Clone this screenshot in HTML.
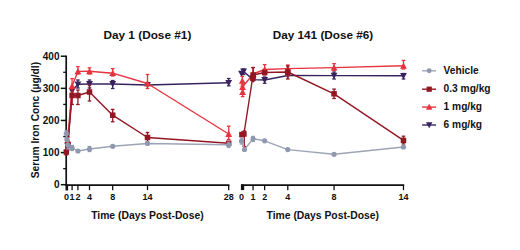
<!DOCTYPE html><html><head><meta charset="utf-8"><style>html,body{margin:0;padding:0;background:#fff;overflow:hidden;}svg{display:block;}text{font-family:"Liberation Sans",sans-serif;font-weight:bold;fill:#111;}</style></head><body>
<svg width="520" height="250" viewBox="0 0 520 250">
<rect width="520" height="250" fill="#fff"/>
<text x="147.40" y="39.40" font-size="11.8" text-anchor="middle" >Day 1 (Dose #1)</text>
<text x="323.00" y="39.40" font-size="11.75" text-anchor="middle" >Day 141 (Dose #6)</text>
<text transform="translate(39.4,120.1) rotate(-90)" font-size="10.25" text-anchor="middle">Serum Iron Conc (µg/dl)</text>
<line x1="66.20" y1="55.60" x2="66.20" y2="185.50" stroke="#111" stroke-width="1.7"/>
<line x1="60.80" y1="184.70" x2="66.20" y2="184.70" stroke="#111" stroke-width="1.5"/>
<text x="59.50" y="188.25" font-size="10" text-anchor="end" >0</text>
<line x1="60.80" y1="152.58" x2="66.20" y2="152.58" stroke="#111" stroke-width="1.5"/>
<text x="59.50" y="156.13" font-size="10" text-anchor="end" >100</text>
<line x1="60.80" y1="120.46" x2="66.20" y2="120.46" stroke="#111" stroke-width="1.5"/>
<text x="59.50" y="124.01" font-size="10" text-anchor="end" >200</text>
<line x1="60.80" y1="88.34" x2="66.20" y2="88.34" stroke="#111" stroke-width="1.5"/>
<text x="59.50" y="91.89" font-size="10" text-anchor="end" >300</text>
<line x1="60.80" y1="56.22" x2="66.20" y2="56.22" stroke="#111" stroke-width="1.5"/>
<text x="59.50" y="59.77" font-size="10" text-anchor="end" >400</text>
<line x1="63.20" y1="168.64" x2="66.20" y2="168.64" stroke="#111" stroke-width="1.3"/>
<line x1="63.20" y1="136.52" x2="66.20" y2="136.52" stroke="#111" stroke-width="1.3"/>
<line x1="63.20" y1="104.40" x2="66.20" y2="104.40" stroke="#111" stroke-width="1.3"/>
<line x1="63.20" y1="72.28" x2="66.20" y2="72.28" stroke="#111" stroke-width="1.3"/>
<line x1="65.40" y1="185.10" x2="229.40" y2="185.10" stroke="#111" stroke-width="1.7"/>
<rect x="65.5" y="184.5" width="2.6" height="6" fill="#111"/>
<line x1="72.10" y1="185.00" x2="72.10" y2="190.20" stroke="#111" stroke-width="1.3"/>
<line x1="77.90" y1="185.00" x2="77.90" y2="190.20" stroke="#111" stroke-width="1.3"/>
<line x1="89.50" y1="185.00" x2="89.50" y2="190.20" stroke="#111" stroke-width="1.3"/>
<line x1="112.70" y1="185.00" x2="112.70" y2="190.20" stroke="#111" stroke-width="1.3"/>
<line x1="147.50" y1="185.00" x2="147.50" y2="190.20" stroke="#111" stroke-width="1.3"/>
<line x1="228.70" y1="185.00" x2="228.70" y2="190.20" stroke="#111" stroke-width="1.3"/>
<text x="66.60" y="200.00" font-size="9" text-anchor="middle" >0</text>
<text x="72.10" y="200.00" font-size="9" text-anchor="middle" >1</text>
<text x="77.90" y="200.00" font-size="9" text-anchor="middle" >2</text>
<text x="89.50" y="200.00" font-size="9" text-anchor="middle" >4</text>
<text x="112.70" y="200.00" font-size="9" text-anchor="middle" >8</text>
<text x="147.50" y="200.00" font-size="9" text-anchor="middle" >14</text>
<text x="228.70" y="200.00" font-size="9" text-anchor="middle" >28</text>
<text x="147.40" y="219.00" font-size="10.35" text-anchor="middle" >Time (Days Post-Dose)</text>
<line x1="241.00" y1="185.10" x2="404.20" y2="185.10" stroke="#111" stroke-width="1.7"/>
<rect x="240.9" y="184.5" width="3.3" height="5.6" fill="#111"/>
<line x1="253.07" y1="185.00" x2="253.07" y2="190.20" stroke="#111" stroke-width="1.3"/>
<line x1="264.64" y1="185.00" x2="264.64" y2="190.20" stroke="#111" stroke-width="1.3"/>
<line x1="287.78" y1="185.00" x2="287.78" y2="190.20" stroke="#111" stroke-width="1.3"/>
<line x1="334.06" y1="185.00" x2="334.06" y2="190.20" stroke="#111" stroke-width="1.3"/>
<line x1="403.48" y1="185.00" x2="403.48" y2="190.20" stroke="#111" stroke-width="1.3"/>
<text x="241.50" y="200.00" font-size="9" text-anchor="middle" >0</text>
<text x="253.07" y="200.00" font-size="9" text-anchor="middle" >1</text>
<text x="264.64" y="200.00" font-size="9" text-anchor="middle" >2</text>
<text x="287.78" y="200.00" font-size="9" text-anchor="middle" >4</text>
<text x="334.06" y="200.00" font-size="9" text-anchor="middle" >8</text>
<text x="403.48" y="200.00" font-size="9" text-anchor="middle" >14</text>
<text x="322.80" y="219.00" font-size="10.35" text-anchor="middle" >Time (Days Post-Dose)</text>
<line x1="77.90" y1="80.00" x2="77.90" y2="88.00" stroke="#38235f" stroke-width="1.3"/>
<line x1="76.10" y1="80.00" x2="79.70" y2="80.00" stroke="#38235f" stroke-width="1.3"/>
<line x1="76.10" y1="88.00" x2="79.70" y2="88.00" stroke="#38235f" stroke-width="1.3"/>
<line x1="89.50" y1="80.00" x2="89.50" y2="88.00" stroke="#38235f" stroke-width="1.3"/>
<line x1="87.70" y1="80.00" x2="91.30" y2="80.00" stroke="#38235f" stroke-width="1.3"/>
<line x1="87.70" y1="88.00" x2="91.30" y2="88.00" stroke="#38235f" stroke-width="1.3"/>
<line x1="112.70" y1="80.50" x2="112.70" y2="88.50" stroke="#38235f" stroke-width="1.3"/>
<line x1="110.90" y1="80.50" x2="114.50" y2="80.50" stroke="#38235f" stroke-width="1.3"/>
<line x1="110.90" y1="88.50" x2="114.50" y2="88.50" stroke="#38235f" stroke-width="1.3"/>
<line x1="228.70" y1="78.50" x2="228.70" y2="85.80" stroke="#38235f" stroke-width="1.3"/>
<line x1="226.90" y1="78.50" x2="230.50" y2="78.50" stroke="#38235f" stroke-width="1.3"/>
<line x1="226.90" y1="85.80" x2="230.50" y2="85.80" stroke="#38235f" stroke-width="1.3"/>
<line x1="243.60" y1="69.00" x2="243.60" y2="74.50" stroke="#38235f" stroke-width="1.3"/>
<line x1="241.80" y1="69.00" x2="245.40" y2="69.00" stroke="#38235f" stroke-width="1.3"/>
<line x1="241.80" y1="74.50" x2="245.40" y2="74.50" stroke="#38235f" stroke-width="1.3"/>
<line x1="264.64" y1="77.00" x2="264.64" y2="83.30" stroke="#38235f" stroke-width="1.3"/>
<line x1="262.84" y1="77.00" x2="266.44" y2="77.00" stroke="#38235f" stroke-width="1.3"/>
<line x1="262.84" y1="83.30" x2="266.44" y2="83.30" stroke="#38235f" stroke-width="1.3"/>
<line x1="334.06" y1="72.00" x2="334.06" y2="79.00" stroke="#38235f" stroke-width="1.3"/>
<line x1="332.26" y1="72.00" x2="335.86" y2="72.00" stroke="#38235f" stroke-width="1.3"/>
<line x1="332.26" y1="79.00" x2="335.86" y2="79.00" stroke="#38235f" stroke-width="1.3"/>
<line x1="403.48" y1="73.50" x2="403.48" y2="79.00" stroke="#38235f" stroke-width="1.3"/>
<line x1="401.68" y1="73.50" x2="405.28" y2="73.50" stroke="#38235f" stroke-width="1.3"/>
<line x1="401.68" y1="79.00" x2="405.28" y2="79.00" stroke="#38235f" stroke-width="1.3"/>
<polyline points="67.75,146.00 72.10,91.00 77.90,84.30 89.50,84.00 112.70,84.00 147.50,85.00 228.70,82.80" fill="none" stroke="#38235f" stroke-width="1.4" stroke-linejoin="round"/>
<polyline points="241.50,73.60 243.60,71.50 253.07,79.60 264.64,80.00 287.78,75.50 334.06,75.60 403.48,75.80" fill="none" stroke="#38235f" stroke-width="1.4" stroke-linejoin="round"/>
<polygon points="64.35,143.11 71.15,143.11 67.75,149.40" fill="#38235f"/>
<polygon points="68.70,88.11 75.50,88.11 72.10,94.40" fill="#38235f"/>
<polygon points="74.50,81.41 81.30,81.41 77.90,87.70" fill="#38235f"/>
<polygon points="86.10,81.11 92.90,81.11 89.50,87.40" fill="#38235f"/>
<polygon points="109.30,81.11 116.10,81.11 112.70,87.40" fill="#38235f"/>
<polygon points="144.10,82.11 150.90,82.11 147.50,88.40" fill="#38235f"/>
<polygon points="225.30,79.91 232.10,79.91 228.70,86.20" fill="#38235f"/>
<polygon points="238.10,70.71 244.90,70.71 241.50,77.00" fill="#38235f"/>
<polygon points="240.20,68.61 247.00,68.61 243.60,74.90" fill="#38235f"/>
<polygon points="249.67,76.71 256.47,76.71 253.07,83.00" fill="#38235f"/>
<polygon points="261.24,77.11 268.04,77.11 264.64,83.40" fill="#38235f"/>
<polygon points="284.38,72.61 291.18,72.61 287.78,78.90" fill="#38235f"/>
<polygon points="330.66,72.71 337.46,72.71 334.06,79.00" fill="#38235f"/>
<polygon points="400.08,72.91 406.88,72.91 403.48,79.20" fill="#38235f"/>
<line x1="72.10" y1="78.60" x2="72.10" y2="93.00" stroke="#e6333f" stroke-width="1.3"/>
<line x1="70.30" y1="78.60" x2="73.90" y2="78.60" stroke="#e6333f" stroke-width="1.3"/>
<line x1="70.30" y1="93.00" x2="73.90" y2="93.00" stroke="#e6333f" stroke-width="1.3"/>
<line x1="77.90" y1="66.60" x2="77.90" y2="74.00" stroke="#e6333f" stroke-width="1.3"/>
<line x1="76.10" y1="66.60" x2="79.70" y2="66.60" stroke="#e6333f" stroke-width="1.3"/>
<line x1="76.10" y1="74.00" x2="79.70" y2="74.00" stroke="#e6333f" stroke-width="1.3"/>
<line x1="89.50" y1="67.80" x2="89.50" y2="74.00" stroke="#e6333f" stroke-width="1.3"/>
<line x1="87.70" y1="67.80" x2="91.30" y2="67.80" stroke="#e6333f" stroke-width="1.3"/>
<line x1="87.70" y1="74.00" x2="91.30" y2="74.00" stroke="#e6333f" stroke-width="1.3"/>
<line x1="112.70" y1="68.60" x2="112.70" y2="76.00" stroke="#e6333f" stroke-width="1.3"/>
<line x1="110.90" y1="68.60" x2="114.50" y2="68.60" stroke="#e6333f" stroke-width="1.3"/>
<line x1="110.90" y1="76.00" x2="114.50" y2="76.00" stroke="#e6333f" stroke-width="1.3"/>
<line x1="147.50" y1="74.50" x2="147.50" y2="88.50" stroke="#e6333f" stroke-width="1.3"/>
<line x1="145.70" y1="74.50" x2="149.30" y2="74.50" stroke="#e6333f" stroke-width="1.3"/>
<line x1="145.70" y1="88.50" x2="149.30" y2="88.50" stroke="#e6333f" stroke-width="1.3"/>
<line x1="228.70" y1="126.20" x2="228.70" y2="139.50" stroke="#e6333f" stroke-width="1.3"/>
<line x1="226.90" y1="126.20" x2="230.50" y2="126.20" stroke="#e6333f" stroke-width="1.3"/>
<line x1="226.90" y1="139.50" x2="230.50" y2="139.50" stroke="#e6333f" stroke-width="1.3"/>
<line x1="242.30" y1="76.40" x2="242.30" y2="86.00" stroke="#e6333f" stroke-width="1.3"/>
<line x1="240.50" y1="76.40" x2="244.10" y2="76.40" stroke="#e6333f" stroke-width="1.3"/>
<line x1="240.50" y1="86.00" x2="244.10" y2="86.00" stroke="#e6333f" stroke-width="1.3"/>
<line x1="242.60" y1="84.00" x2="242.60" y2="96.60" stroke="#e6333f" stroke-width="1.3"/>
<line x1="240.80" y1="84.00" x2="244.40" y2="84.00" stroke="#e6333f" stroke-width="1.3"/>
<line x1="240.80" y1="96.60" x2="244.40" y2="96.60" stroke="#e6333f" stroke-width="1.3"/>
<line x1="253.07" y1="67.60" x2="253.07" y2="80.00" stroke="#e6333f" stroke-width="1.3"/>
<line x1="251.27" y1="67.60" x2="254.87" y2="67.60" stroke="#e6333f" stroke-width="1.3"/>
<line x1="251.27" y1="80.00" x2="254.87" y2="80.00" stroke="#e6333f" stroke-width="1.3"/>
<line x1="264.64" y1="64.60" x2="264.64" y2="75.00" stroke="#e6333f" stroke-width="1.3"/>
<line x1="262.84" y1="64.60" x2="266.44" y2="64.60" stroke="#e6333f" stroke-width="1.3"/>
<line x1="262.84" y1="75.00" x2="266.44" y2="75.00" stroke="#e6333f" stroke-width="1.3"/>
<line x1="287.78" y1="65.00" x2="287.78" y2="76.00" stroke="#e6333f" stroke-width="1.3"/>
<line x1="285.98" y1="65.00" x2="289.58" y2="65.00" stroke="#e6333f" stroke-width="1.3"/>
<line x1="285.98" y1="76.00" x2="289.58" y2="76.00" stroke="#e6333f" stroke-width="1.3"/>
<line x1="334.06" y1="63.60" x2="334.06" y2="70.50" stroke="#e6333f" stroke-width="1.3"/>
<line x1="332.26" y1="63.60" x2="335.86" y2="63.60" stroke="#e6333f" stroke-width="1.3"/>
<line x1="332.26" y1="70.50" x2="335.86" y2="70.50" stroke="#e6333f" stroke-width="1.3"/>
<line x1="403.48" y1="60.40" x2="403.48" y2="69.00" stroke="#e6333f" stroke-width="1.3"/>
<line x1="401.68" y1="60.40" x2="405.28" y2="60.40" stroke="#e6333f" stroke-width="1.3"/>
<line x1="401.68" y1="69.00" x2="405.28" y2="69.00" stroke="#e6333f" stroke-width="1.3"/>
<polyline points="67.75,140.00 72.10,86.00 77.90,71.40 89.50,71.30 112.70,73.20 147.50,83.50 228.70,134.00" fill="none" stroke="#e6333f" stroke-width="1.4" stroke-linejoin="round"/>
<polyline points="242.30,80.80 242.60,92.00 242.60,87.00 253.07,74.00 264.64,69.50 287.78,68.60 334.06,67.60 403.48,65.80" fill="none" stroke="#e6333f" stroke-width="1.4" stroke-linejoin="round"/>
<polygon points="64.35,142.89 71.15,142.89 67.75,136.60" fill="#e6333f"/>
<polygon points="68.70,88.89 75.50,88.89 72.10,82.60" fill="#e6333f"/>
<polygon points="74.50,74.29 81.30,74.29 77.90,68.00" fill="#e6333f"/>
<polygon points="86.10,74.19 92.90,74.19 89.50,67.90" fill="#e6333f"/>
<polygon points="109.30,76.09 116.10,76.09 112.70,69.80" fill="#e6333f"/>
<polygon points="144.10,86.39 150.90,86.39 147.50,80.10" fill="#e6333f"/>
<polygon points="225.30,136.89 232.10,136.89 228.70,130.60" fill="#e6333f"/>
<polygon points="238.90,83.69 245.70,83.69 242.30,77.40" fill="#e6333f"/>
<polygon points="239.20,94.89 246.00,94.89 242.60,88.60" fill="#e6333f"/>
<polygon points="239.20,89.89 246.00,89.89 242.60,83.60" fill="#e6333f"/>
<polygon points="249.67,76.89 256.47,76.89 253.07,70.60" fill="#e6333f"/>
<polygon points="261.24,72.39 268.04,72.39 264.64,66.10" fill="#e6333f"/>
<polygon points="284.38,71.49 291.18,71.49 287.78,65.20" fill="#e6333f"/>
<polygon points="330.66,70.49 337.46,70.49 334.06,64.20" fill="#e6333f"/>
<polygon points="400.08,68.69 406.88,68.69 403.48,62.40" fill="#e6333f"/>
<line x1="72.10" y1="90.00" x2="72.10" y2="104.50" stroke="#931622" stroke-width="1.3"/>
<line x1="70.30" y1="90.00" x2="73.90" y2="90.00" stroke="#931622" stroke-width="1.3"/>
<line x1="70.30" y1="104.50" x2="73.90" y2="104.50" stroke="#931622" stroke-width="1.3"/>
<line x1="77.90" y1="90.00" x2="77.90" y2="104.50" stroke="#931622" stroke-width="1.3"/>
<line x1="76.10" y1="90.00" x2="79.70" y2="90.00" stroke="#931622" stroke-width="1.3"/>
<line x1="76.10" y1="104.50" x2="79.70" y2="104.50" stroke="#931622" stroke-width="1.3"/>
<line x1="89.50" y1="85.00" x2="89.50" y2="101.00" stroke="#931622" stroke-width="1.3"/>
<line x1="87.70" y1="85.00" x2="91.30" y2="85.00" stroke="#931622" stroke-width="1.3"/>
<line x1="87.70" y1="101.00" x2="91.30" y2="101.00" stroke="#931622" stroke-width="1.3"/>
<line x1="112.70" y1="109.40" x2="112.70" y2="121.80" stroke="#931622" stroke-width="1.3"/>
<line x1="110.90" y1="109.40" x2="114.50" y2="109.40" stroke="#931622" stroke-width="1.3"/>
<line x1="110.90" y1="121.80" x2="114.50" y2="121.80" stroke="#931622" stroke-width="1.3"/>
<line x1="147.50" y1="132.50" x2="147.50" y2="142.00" stroke="#931622" stroke-width="1.3"/>
<line x1="145.70" y1="132.50" x2="149.30" y2="132.50" stroke="#931622" stroke-width="1.3"/>
<line x1="145.70" y1="142.00" x2="149.30" y2="142.00" stroke="#931622" stroke-width="1.3"/>
<line x1="66.30" y1="134.00" x2="66.30" y2="155.00" stroke="#931622" stroke-width="1.3"/>
<line x1="64.50" y1="134.00" x2="68.10" y2="134.00" stroke="#931622" stroke-width="1.3"/>
<line x1="64.50" y1="155.00" x2="68.10" y2="155.00" stroke="#931622" stroke-width="1.3"/>
<line x1="67.75" y1="137.00" x2="67.75" y2="150.00" stroke="#931622" stroke-width="1.3"/>
<line x1="65.95" y1="137.00" x2="69.55" y2="137.00" stroke="#931622" stroke-width="1.3"/>
<line x1="65.95" y1="150.00" x2="69.55" y2="150.00" stroke="#931622" stroke-width="1.3"/>
<line x1="244.30" y1="131.00" x2="244.30" y2="146.50" stroke="#931622" stroke-width="1.3"/>
<line x1="242.50" y1="131.00" x2="246.10" y2="131.00" stroke="#931622" stroke-width="1.3"/>
<line x1="242.50" y1="146.50" x2="246.10" y2="146.50" stroke="#931622" stroke-width="1.3"/>
<line x1="253.07" y1="67.50" x2="253.07" y2="81.00" stroke="#931622" stroke-width="1.3"/>
<line x1="251.27" y1="67.50" x2="254.87" y2="67.50" stroke="#931622" stroke-width="1.3"/>
<line x1="251.27" y1="81.00" x2="254.87" y2="81.00" stroke="#931622" stroke-width="1.3"/>
<line x1="287.78" y1="66.00" x2="287.78" y2="79.00" stroke="#931622" stroke-width="1.3"/>
<line x1="285.98" y1="66.00" x2="289.58" y2="66.00" stroke="#931622" stroke-width="1.3"/>
<line x1="285.98" y1="79.00" x2="289.58" y2="79.00" stroke="#931622" stroke-width="1.3"/>
<line x1="334.06" y1="89.10" x2="334.06" y2="98.50" stroke="#931622" stroke-width="1.3"/>
<line x1="332.26" y1="89.10" x2="335.86" y2="89.10" stroke="#931622" stroke-width="1.3"/>
<line x1="332.26" y1="98.50" x2="335.86" y2="98.50" stroke="#931622" stroke-width="1.3"/>
<line x1="403.48" y1="136.20" x2="403.48" y2="144.00" stroke="#931622" stroke-width="1.3"/>
<line x1="401.68" y1="136.20" x2="405.28" y2="136.20" stroke="#931622" stroke-width="1.3"/>
<line x1="401.68" y1="144.00" x2="405.28" y2="144.00" stroke="#931622" stroke-width="1.3"/>
<polyline points="66.30,152.00 67.75,145.00 72.10,95.50 77.90,95.50 89.50,92.00 112.70,115.20 147.50,137.50 228.70,143.30" fill="none" stroke="#931622" stroke-width="1.4" stroke-linejoin="round"/>
<polyline points="241.90,134.60 243.90,134.00 253.07,75.00 264.64,72.50 287.78,72.00 334.06,93.80 403.48,140.40" fill="none" stroke="#931622" stroke-width="1.4" stroke-linejoin="round"/>
<rect x="63.55" y="149.25" width="5.50" height="5.50" fill="#931622"/>
<rect x="65.00" y="142.25" width="5.50" height="5.50" fill="#931622"/>
<rect x="69.35" y="92.75" width="5.50" height="5.50" fill="#931622"/>
<rect x="75.15" y="92.75" width="5.50" height="5.50" fill="#931622"/>
<rect x="86.75" y="89.25" width="5.50" height="5.50" fill="#931622"/>
<rect x="109.95" y="112.45" width="5.50" height="5.50" fill="#931622"/>
<rect x="144.75" y="134.75" width="5.50" height="5.50" fill="#931622"/>
<rect x="225.95" y="140.55" width="5.50" height="5.50" fill="#931622"/>
<rect x="239.15" y="131.85" width="5.50" height="5.50" fill="#931622"/>
<rect x="241.15" y="131.25" width="5.50" height="5.50" fill="#931622"/>
<rect x="250.32" y="72.25" width="5.50" height="5.50" fill="#931622"/>
<rect x="261.89" y="69.75" width="5.50" height="5.50" fill="#931622"/>
<rect x="285.03" y="69.25" width="5.50" height="5.50" fill="#931622"/>
<rect x="331.31" y="91.05" width="5.50" height="5.50" fill="#931622"/>
<rect x="400.73" y="137.65" width="5.50" height="5.50" fill="#931622"/>
<rect x="250.12" y="75.55" width="5.50" height="5.50" fill="#931622"/>
<line x1="89.50" y1="146.50" x2="89.50" y2="151.50" stroke="#8e99b0" stroke-width="1.3"/>
<line x1="87.70" y1="146.50" x2="91.30" y2="146.50" stroke="#8e99b0" stroke-width="1.3"/>
<line x1="87.70" y1="151.50" x2="91.30" y2="151.50" stroke="#8e99b0" stroke-width="1.3"/>
<line x1="66.30" y1="130.50" x2="66.30" y2="137.50" stroke="#8e99b0" stroke-width="1.3"/>
<line x1="64.50" y1="130.50" x2="68.10" y2="130.50" stroke="#8e99b0" stroke-width="1.3"/>
<line x1="64.50" y1="137.50" x2="68.10" y2="137.50" stroke="#8e99b0" stroke-width="1.3"/>
<line x1="67.75" y1="141.00" x2="67.75" y2="149.00" stroke="#8e99b0" stroke-width="1.3"/>
<line x1="65.95" y1="141.00" x2="69.55" y2="141.00" stroke="#8e99b0" stroke-width="1.3"/>
<line x1="65.95" y1="149.00" x2="69.55" y2="149.00" stroke="#8e99b0" stroke-width="1.3"/>
<line x1="72.10" y1="145.50" x2="72.10" y2="150.50" stroke="#8e99b0" stroke-width="1.3"/>
<line x1="70.30" y1="145.50" x2="73.90" y2="145.50" stroke="#8e99b0" stroke-width="1.3"/>
<line x1="70.30" y1="150.50" x2="73.90" y2="150.50" stroke="#8e99b0" stroke-width="1.3"/>
<line x1="228.70" y1="142.30" x2="228.70" y2="147.30" stroke="#8e99b0" stroke-width="1.3"/>
<line x1="226.90" y1="142.30" x2="230.50" y2="142.30" stroke="#8e99b0" stroke-width="1.3"/>
<line x1="226.90" y1="147.30" x2="230.50" y2="147.30" stroke="#8e99b0" stroke-width="1.3"/>
<line x1="253.07" y1="136.40" x2="253.07" y2="141.40" stroke="#8e99b0" stroke-width="1.3"/>
<line x1="251.27" y1="136.40" x2="254.87" y2="136.40" stroke="#8e99b0" stroke-width="1.3"/>
<line x1="251.27" y1="141.40" x2="254.87" y2="141.40" stroke="#8e99b0" stroke-width="1.3"/>
<line x1="241.50" y1="138.00" x2="241.50" y2="144.00" stroke="#8e99b0" stroke-width="1.3"/>
<line x1="239.70" y1="138.00" x2="243.30" y2="138.00" stroke="#8e99b0" stroke-width="1.3"/>
<line x1="239.70" y1="144.00" x2="243.30" y2="144.00" stroke="#8e99b0" stroke-width="1.3"/>
<polyline points="66.30,133.50 66.90,139.50 67.75,145.00 72.10,148.00 77.90,151.00 89.50,149.00 112.70,146.30 147.50,143.50 228.70,144.80" fill="none" stroke="#9ca4b6" stroke-width="1.4" stroke-linejoin="round"/>
<polyline points="241.50,141.00 244.50,149.50 253.07,138.80 264.64,140.80 287.78,149.60 334.06,154.30 403.48,147.00" fill="none" stroke="#9ca4b6" stroke-width="1.4" stroke-linejoin="round"/>
<circle cx="66.30" cy="133.50" r="2.60" fill="#8e99b0"/>
<circle cx="66.90" cy="139.50" r="2.60" fill="#8e99b0"/>
<circle cx="67.75" cy="145.00" r="2.60" fill="#8e99b0"/>
<circle cx="72.10" cy="148.00" r="2.60" fill="#8e99b0"/>
<circle cx="77.90" cy="151.00" r="2.60" fill="#8e99b0"/>
<circle cx="89.50" cy="149.00" r="2.60" fill="#8e99b0"/>
<circle cx="112.70" cy="146.30" r="2.60" fill="#8e99b0"/>
<circle cx="147.50" cy="143.50" r="2.60" fill="#8e99b0"/>
<circle cx="228.70" cy="144.80" r="2.60" fill="#8e99b0"/>
<circle cx="241.50" cy="141.00" r="2.60" fill="#8e99b0"/>
<circle cx="244.50" cy="149.50" r="2.60" fill="#8e99b0"/>
<circle cx="253.07" cy="138.80" r="2.60" fill="#8e99b0"/>
<circle cx="264.64" cy="140.80" r="2.60" fill="#8e99b0"/>
<circle cx="287.78" cy="149.60" r="2.60" fill="#8e99b0"/>
<circle cx="334.06" cy="154.30" r="2.60" fill="#8e99b0"/>
<circle cx="403.48" cy="147.00" r="2.60" fill="#8e99b0"/>
<line x1="422.10" y1="70.80" x2="436.00" y2="70.80" stroke="#9ca4b6" stroke-width="1.4"/>
<circle cx="429.20" cy="70.80" r="2.47" fill="#8e99b0"/>
<text x="443.60" y="73.95" font-size="10.2" text-anchor="start" >Vehicle</text>
<line x1="422.10" y1="89.20" x2="436.00" y2="89.20" stroke="#931622" stroke-width="1.4"/>
<rect x="426.59" y="86.59" width="5.22" height="5.22" fill="#931622"/>
<text x="443.60" y="92.35" font-size="10.2" text-anchor="start" >0.3 mg/kg</text>
<line x1="422.10" y1="107.10" x2="436.00" y2="107.10" stroke="#e6333f" stroke-width="1.4"/>
<polygon points="425.97,109.85 432.43,109.85 429.20,103.87" fill="#e6333f"/>
<text x="443.60" y="110.25" font-size="10.2" text-anchor="start" >1 mg/kg</text>
<line x1="422.10" y1="125.00" x2="436.00" y2="125.00" stroke="#38235f" stroke-width="1.4"/>
<polygon points="425.97,122.25 432.43,122.25 429.20,128.23" fill="#38235f"/>
<text x="443.60" y="128.15" font-size="10.2" text-anchor="start" >6 mg/kg</text>
</svg></body></html>
